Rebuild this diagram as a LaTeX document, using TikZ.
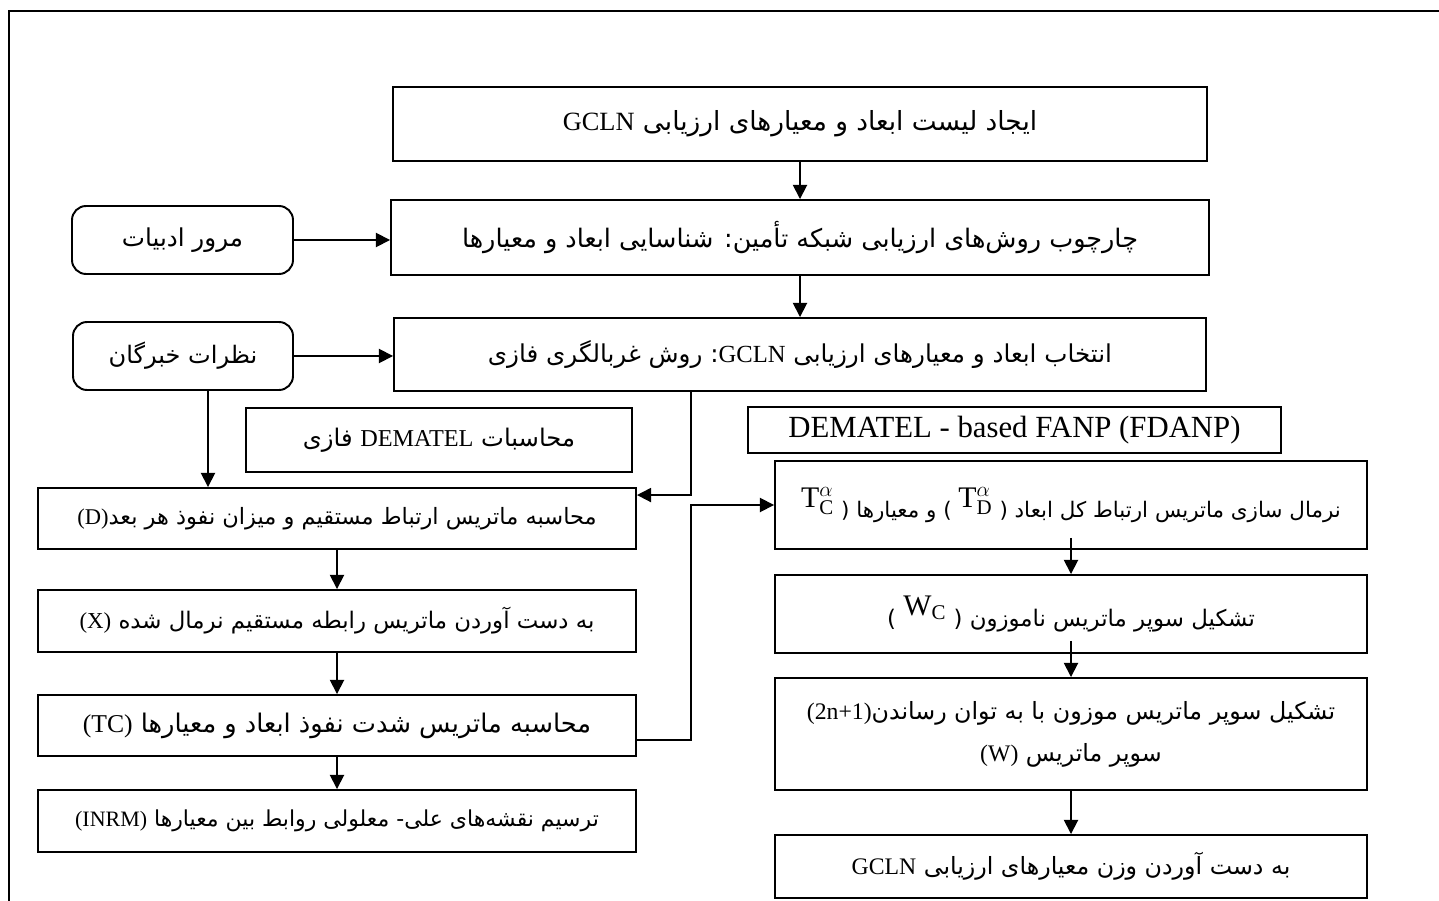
\documentclass[tikz,border=0pt]{standalone}
\usepackage{fontspec}
\usetikzlibrary{arrows.meta}
\newfontfamily\fa[Script=Arabic]{DejaVu Sans}
\newfontfamily\la{Liberation Serif}
\setmathrm{Liberation Serif}
\TeXXeTstate=1
\newcommand{\rtl}[1]{{\fa\beginR #1\endR}}
\newcommand{\ltr}[1]{{\la\beginL #1\endL}}
\newcommand{\bigsym}[1]{\raisebox{0.9ex}{\fontsize{17}{17}\selectfont$#1$}}

\begin{document}
\begin{tikzpicture}[
    box/.style={draw, line width=1.1pt, inner sep=2pt, align=center},
    rbox/.style={box, rounded corners=8pt},
    fs/.style={font=\fa\fontsize{#1}{24}\selectfont},
    arr/.style={-{Triangle[length=8pt,width=8pt]}, line width=1pt}
  ]
  \useasboundingbox (0,0) rectangle (28.78,-18.02);
  % outer frame
  \draw[line width=1.6pt] (0.18,-18.02) |- (28.78,-0.22);

  % top chain
  \node[box, fs=15, minimum width=16.28cm, minimum height=1.48cm] (list) at (16.00,-2.48)
    {\rtl{ایجاد لیست ابعاد و معیارهای ارزیابی \ltr{GCLN}}};
  \node[box, fs=14.5, minimum width=16.36cm, minimum height=1.50cm] (frame) at (16.00,-4.75)
    {\rtl{چارچوب روش‌های ارزیابی شبکه تأمین: شناسایی ابعاد و معیارها}};
  \node[box, fs=14, minimum width=16.24cm, minimum height=1.46cm] (select) at (16.00,-7.09)
    {\rtl{انتخاب ابعاد و معیارهای ارزیابی \ltr{GCLN}: روش غربالگری فازی}};
  \node[rbox, fs=14, minimum width=4.42cm, minimum height=1.36cm] (lit) at (3.65,-4.80)
    {\rtl{مرور ادبیات}};
  \node[rbox, fs=13.7, minimum width=4.40cm, minimum height=1.36cm] (exp) at (3.66,-7.12)
    {\rtl{نظرات خبرگان}};

  % headings
  \node[box, fs=13.8, minimum width=7.72cm, minimum height=1.28cm] (fdem) at (8.78,-8.80)
    {\rtl{محاسبات \ltr{DEMATEL} فازی}};
  \node[box, minimum width=10.66cm, minimum height=0.92cm, font=\la\fontsize{17.5}{20}\selectfont] (fdanp) at (20.29,-8.60)
    {DEMATEL - based FANP (FDANP)};

  % DEMATEL column
  \node[box, fs=12.8, minimum width=11.96cm, minimum height=1.22cm] (dmat) at (6.74,-10.37)
    {\rtl{محاسبه ماتریس ارتباط مستقیم و میزان نفوذ هر بعد\ltr{(D)}}};
  \node[box, fs=13, minimum width=11.96cm, minimum height=1.24cm] (xmat) at (6.74,-12.42)
    {\rtl{به دست آوردن ماتریس رابطه مستقیم نرمال شده \ltr{(X)}}};
  \node[box, fs=14.6, minimum width=11.96cm, minimum height=1.22cm] (tc) at (6.74,-14.51)
    {\rtl{محاسبه ماتریس شدت نفوذ ابعاد و معیارها \ltr{(TC)}}};
  \node[box, fs=12.5, minimum width=11.96cm, minimum height=1.24cm] (inrm) at (6.74,-16.42)
    {\rtl{ترسیم نقشه‌های علی- معلولی روابط بین معیارها \ltr{(INRM)}}};

  % FDANP column
  \node[box, fs=12.2, minimum width=11.84cm, minimum height=1.76cm] (nrm) at (21.42,-10.10)
    {\rtl{نرمال سازی ماتریس ارتباط کل ابعاد ( \bigsym{\mathrm{T}^{\alpha}_{\mathrm{D}}} ) و معیارها ( \bigsym{\mathrm{T}^{\alpha}_{\mathrm{C}}}}};
  \node[box, fs=13, minimum width=11.84cm, minimum height=1.56cm] (wc) at (21.42,-12.28)
    {\rtl{تشکیل سوپر ماتریس ناموزون ( \bigsym{\mathrm{W}_{\mathrm{C}}} )}};
  \node[box, fs=13.5, minimum width=11.84cm, minimum height=2.24cm] (ws) at (21.42,-14.68)
    {\rtl{تشکیل سوپر ماتریس موزون با به توان رساندن\ltr{(2n+1)}}\\
     \rtl{سوپر ماتریس \ltr{(W)}}};
  \node[box, fs=13.5, minimum width=11.84cm, minimum height=1.26cm] (gw) at (21.42,-17.33)
    {\rtl{به دست آوردن وزن معیارهای ارزیابی \ltr{GCLN}}};

  % connectors
  \draw[arr] (list) -- (frame);
  \draw[arr] (frame) -- (select);
  \draw[arr] (lit) -- (lit -| frame.west);
  \draw[arr] (exp) -- (exp -| select.west);
  \draw[arr] ([xshift=0.5cm]exp.south) -- ([xshift=0.5cm]exp.south |- dmat.north);
  \draw[arr] ([xshift=-2.18cm]select.south) |- ([yshift=-0.16cm]dmat.north east);
  \draw[arr] (dmat) -- (xmat);
  \draw[arr] (xmat) -- (tc);
  \draw[arr] (tc) -- (inrm);
  \draw[arr] ([yshift=-0.29cm]tc.east) -- ++(1.08,0) |- (nrm.west);
  \draw[arr] ([yshift=0.24cm]nrm.south) -- (wc.north);
  \draw[arr] ([yshift=0.26cm]wc.south) -- (ws.north);
  \draw[arr] (ws) -- (gw);
\end{tikzpicture}
\end{document}
